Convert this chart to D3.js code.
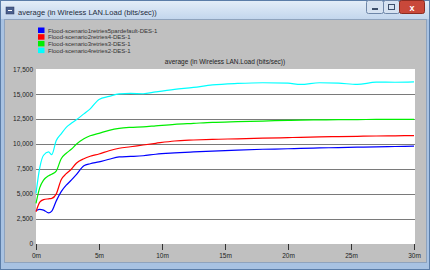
<!DOCTYPE html>
<html>
<head>
<meta charset="utf-8">
<script src="https://cdn.jsdelivr.net/npm/d3@7"></script>
<style>
  body { margin: 0; background: #fff; }
  svg text { font-family: "Liberation Sans", Arial, sans-serif; }
</style>
</head>
<body>
<svg id="chart" width="430" height="270"></svg>
<script>
// datos (tiempo en minutos, carga en bits/seg)
var tiempos = [0, 0.3, 0.6, 1.0, 1.25, 1.6, 2.0, 2.4, 2.8, 3.2, 3.8, 4.3, 5.0, 5.8, 6.6, 7.5, 8.5, 9.5, 11, 12.5, 14, 16, 18, 20, 21, 22.5, 24, 25.5, 27, 28.5, 30];
var serie1 = [3280, 3420, 3350, 3080, 3250, 4250, 5200, 5850, 6350, 6900, 7800, 8000, 8180, 8450, 8680, 8730, 8800, 8950, 9080, 9180, 9270, 9370, 9450, 9500, 9540, 9580, 9620, 9660, 9700, 9730, 9760];
var serie2 = [3180, 4150, 4400, 4480, 4520, 4950, 6400, 7000, 7450, 8050, 8500, 8750, 8980, 9300, 9550, 9700, 9880, 10050, 10280, 10380, 10450, 10500, 10560, 10620, 10650, 10690, 10720, 10750, 10780, 10800, 10820];
var serie3 = [4020, 5600, 6350, 6800, 6950, 7250, 8500, 9050, 9450, 9950, 10500, 10800, 11050, 11350, 11550, 11650, 11700, 11800, 11950, 12050, 12150, 12220, 12280, 12350, 12380, 12400, 12420, 12430, 12440, 12450, 12450];
var serie4 = [5020, 7600, 8850, 9180, 8920, 10300, 11000, 11650, 12050, 12400, 13000, 13500, 14450, 14750, 15000, 15050, 15020, 15200, 15450, 15650, 15900, 16050, 16120, 16080, 15950, 16120, 16080, 15950, 16180, 16170, 16200];

var nombres = ["Flood-scenario1retries5pardefault-DES-1", "Flood-scenario2retries4-DES-1", "Flood-scenario3retries3-DES-1", "Flood-scenario4retries2-DES-1"];
var colores = ["#0000ff", "#ff0000", "#00ee00", "#00ffff"];
var ticksY = [0, 2500, 5000, 7500, 10000, 12500, 15000, 17500];
var ticksX = [0, 5, 10, 15, 20, 25, 30];
var titulo = "average (in Wireless LAN.Load (bits/sec))";

var series = [serie1, serie2, serie3, serie4];

var svg = d3.select("#chart");

// Marco de la ventana
var defs = svg.append("defs");
var grad = defs.append("linearGradient").attr("id", "barra").attr("x1", 0).attr("y1", 0).attr("x2", 0).attr("y2", 1);
grad.append("stop").attr("offset", "0%").attr("stop-color", "#e3edf8");
grad.append("stop").attr("offset", "100%").attr("stop-color", "#c3d6ed");

svg.append("rect").attr("x", 0.5).attr("y", 0.5).attr("width", 429).attr("height", 269)
    .attr("fill", "#a8c2e2").attr("stroke", "#5b7da8");
svg.append("rect").attr("x", 1).attr("y", 1).attr("width", 428).attr("height", 18)
    .attr("fill", "url(#barra)");

// icono
svg.append("rect").attr("x", 6).attr("y", 7).attr("width", 8).attr("height", 7)
    .attr("fill", "#4a5f8c").attr("stroke", "#2c3b60").attr("stroke-width", 0.5);
svg.append("line").attr("x1", 8).attr("x2", 12).attr("y1", 10.5).attr("y2", 10.5)
    .attr("stroke", "#fff").attr("stroke-width", 1);

svg.append("text").attr("x", 18).attr("y", 14.5).attr("font-size", 7.5)
    .attr("fill", "#1e2b3c").text(titulo);

// botones
var botones = svg.append("g");
botones.append("rect").attr("x", 366.5).attr("y", 0.5).attr("width", 17).attr("height", 13)
    .attr("rx", 2).attr("fill", "#d6e2f1").attr("stroke", "#6e86a8");
botones.append("rect").attr("x", 372).attr("y", 8).attr("width", 6).attr("height", 2).attr("fill", "#3d4f6b");
botones.append("rect").attr("x", 383.5).attr("y", 0.5).attr("width", 16).attr("height", 13)
    .attr("rx", 2).attr("fill", "#d6e2f1").attr("stroke", "#6e86a8");
botones.append("rect").attr("x", 388.5).attr("y", 4.5).attr("width", 6).attr("height", 5)
    .attr("fill", "none").attr("stroke", "#3d4f6b");
botones.append("rect").attr("x", 399.5).attr("y", 0.5).attr("width", 25).attr("height", 13)
    .attr("rx", 2).attr("fill", "#c9483a").attr("stroke", "#8a2c22");
botones.append("text").attr("x", 412).attr("y", 10.5).attr("text-anchor", "middle")
    .attr("font-size", 9).attr("font-weight", "bold").attr("fill", "#fff").text("x");

// area cliente
svg.append("rect").attr("x", 4.5).attr("y", 19.5).attr("width", 422).attr("height", 243)
    .attr("fill", "#c0c0c0").attr("stroke", "#8fa3bd");

// Escalas
var x = d3.scaleLinear().domain([0, 30]).range([36, 414]);
var y = d3.scaleLinear().domain([0, 17500]).range([243.5, 69]);

// Area del grafico
svg.append("rect").attr("x", 36).attr("y", 69).attr("width", 379).attr("height", 175).attr("fill", "#fff");

// Rejilla horizontal
svg.append("g").selectAll("line")
    .data(ticksY.filter(d => d > 0 && d < 17500))
    .enter().append("line")
    .attr("x1", 36).attr("x2", 415)
    .attr("y1", d => Math.round(y(d)) + 0.5).attr("y2", d => Math.round(y(d)) + 0.5)
    .attr("stroke", "#7a7a7a").attr("stroke-width", 1);

// Eje Y (solo etiquetas)
var ejeY = d3.axisLeft(y).tickValues(ticksY).tickSize(0).tickPadding(3)
    .tickFormat(d3.format(","));
svg.append("g").attr("transform", "translate(36,0)").call(ejeY)
    .call(g => g.select(".domain").remove())
    .call(g => g.selectAll("text").attr("font-size", 6.5).attr("fill", "#222")
        .attr("font-family", "Liberation Sans, Arial, sans-serif"));

// Eje X
var ejeX = d3.axisBottom(x).tickValues(ticksX).tickSize(6).tickPadding(3)
    .tickFormat(d => d + "m");
svg.append("g").attr("transform", "translate(0,244)").call(ejeX)
    .call(g => g.select(".domain").remove())
    .call(g => g.selectAll("line").attr("stroke", "#333"))
    .call(g => g.selectAll("text").attr("font-size", 6.5).attr("fill", "#222")
        .attr("font-family", "Liberation Sans, Arial, sans-serif"));

// Titulo del grafico
svg.append("text").attr("x", 225).attr("y", 64).attr("text-anchor", "middle")
    .attr("font-size", 6.5).attr("fill", "#222").text(titulo);

// Lineas
var linea = d3.line()
    .x((d, i) => x(tiempos[i]))
    .y(d => y(d))
    .curve(d3.curveMonotoneX);

svg.append("g").selectAll("path")
    .data(series)
    .enter().append("path")
    .attr("d", linea)
    .attr("fill", "none")
    .attr("stroke", (d, i) => colores[i])
    .attr("stroke-width", 1.2);

// Leyenda
var leyenda = svg.append("g").selectAll("g")
    .data(nombres)
    .enter().append("g")
    .attr("transform", (d, i) => "translate(38," + (27.5 + i * 6.7) + ")");
leyenda.append("rect").attr("width", 6.5).attr("height", 5.5).attr("fill", (d, i) => colores[i]);
leyenda.append("text").attr("x", 10).attr("y", 5).attr("font-size", 6)
    .attr("fill", "#333").text(d => d);
</script>
</body>
</html>
